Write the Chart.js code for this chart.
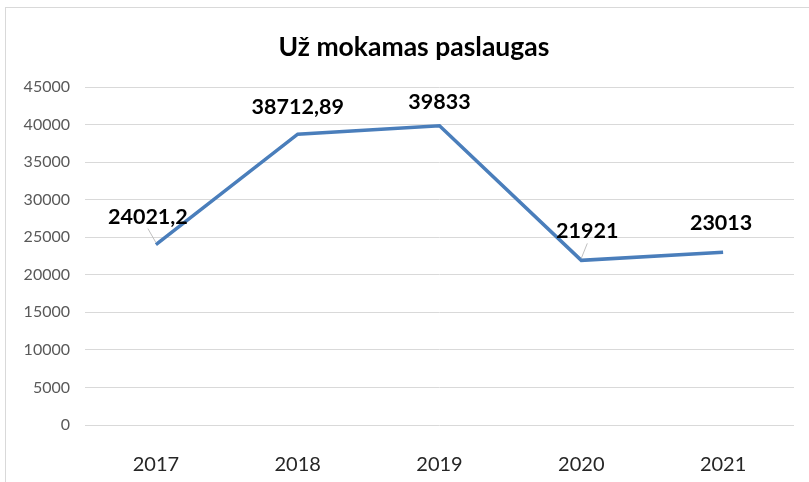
<!DOCTYPE html>
<html>
<head>
<meta charset="utf-8">
<script src="https://cdn.jsdelivr.net/npm/chart.js@4"></script>
<style>
  html, body { margin: 0; padding: 0; background: #fff; overflow: hidden; }
  #wrap { position: relative; width: 809px; height: 482px; }
  #frame { position: absolute; left: 5px; top: 7px; width: 830px; height: 500px; border: 1px solid #d9d9d9; box-sizing: border-box; }
  canvas { position: absolute; left: 0; top: 0; }
</style>
</head>
<body>
<div id="wrap">
  <div id="frame"></div>
  <canvas id="chart" width="809" height="482"></canvas>
</div>
<script>
// --- Data ---
const chartTitle = 'Už mokamas paslaugas';
const years = ['2017', '2018', '2019', '2020', '2021'];
const amounts = [24021.2, 38712.89, 39833, 21921, 23013];
const yTicks = [0, 5000, 10000, 15000, 20000, 25000, 30000, 35000, 40000, 45000];

// label placement relative to each point (dx, dy) and whether a leader line is drawn
const labelOffsets = [
    { dx: -8, dy: -28, leader: true },
    { dx: 0, dy: -27, leader: false },
    { dx: 0, dy: -24, leader: false },
    { dx: 6, dy: -29, leader: true },
    { dx: -2, dy: -29, leader: false }
];

const FONT = 'Lato, "Open Sans", sans-serif';

// --- Title + value labels plugin ---
const valueLabels = {
    id: 'valueLabels',
    afterDatasetsDraw(chart) {
        const ctx = chart.ctx;
        const meta = chart.getDatasetMeta(0);
        ctx.save();
        ctx.font = 'bold 26.5px ' + FONT;
        ctx.fillStyle = '#000';
        ctx.textAlign = 'center';
        ctx.textBaseline = 'middle';
        ctx.fillText(chartTitle, 414, 47);

        meta.data.forEach((pt, i) => {
            const off = labelOffsets[i];
            const x = pt.x + off.dx;
            const y = pt.y + off.dy;
            if (off.leader) {
                ctx.strokeStyle = '#bfbfbf';
                ctx.lineWidth = 1;
                ctx.beginPath();
                ctx.moveTo(x, y + 12);
                ctx.lineTo(pt.x, pt.y - 2);
                ctx.stroke();
            }
            ctx.font = 'bold 21.5px ' + FONT;
            ctx.fillStyle = '#000';
            ctx.fillText(String(amounts[i]).replace('.', ','), x, y);
        });
        ctx.restore();
    }
};

// --- Chart ---
const ctx = document.getElementById('chart').getContext('2d');
new Chart(ctx, {
    type: 'line',
    data: {
        labels: years,
        datasets: [{
            label: chartTitle,
            data: amounts,
            borderColor: '#4a7ebb',
            borderWidth: 3.5,
            pointRadius: 0,
            tension: 0,
            fill: false
        }]
    },
    options: {
        responsive: false,
        animation: false,
        layout: { padding: { top: 87, right: 15, left: 0, bottom: 0 } },
        plugins: {
            legend: { display: false },
            tooltip: { enabled: false },
            title: { display: false }
        },
        scales: {
            x: {
                offset: true,
                grid: { display: false },
                border: { display: false },
                ticks: { color: '#262626', font: { family: FONT, size: 20 }, padding: 20 },
                afterFit(scale) { scale.height = 57; }
            },
            y: {
                min: 0,
                max: 45000,
                afterBuildTicks(scale) { scale.ticks = yTicks.map(v => ({ value: v })); },
                grid: { color: '#d9d9d9', drawTicks: false },
                border: { display: false },
                ticks: {
                    color: '#595959',
                    font: { family: FONT, size: 16 },
                    padding: 15,
                    callback: (v) => String(v)
                },
                afterFit(scale) { scale.width = 85; }
            }
        }
    },
    plugins: [valueLabels]
});
</script>
</body>
</html>
